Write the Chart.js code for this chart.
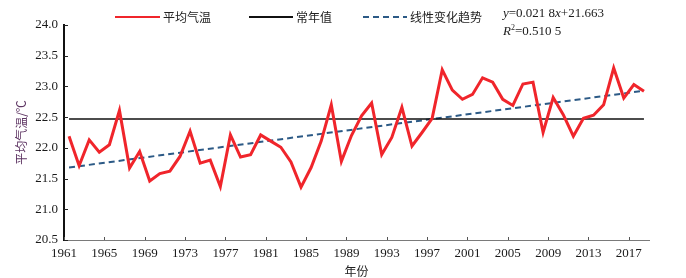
<!DOCTYPE html>
<html>
<head>
<meta charset="utf-8">
<script src="https://cdn.jsdelivr.net/npm/chart.js@4.4.1/dist/chart.umd.min.js"></script>
<style>
  html, body { margin: 0; padding: 0; background: #fff; }
  #wrap { width: 686px; height: 278px; }
</style>
</head>
<body>
<div id="wrap"><canvas id="c" width="686" height="278"></canvas></div>
<script>
// 年份
const years = [
  1961, 1962, 1963, 1964, 1965, 1966, 1967, 1968, 1969, 1970,
  1971, 1972, 1973, 1974, 1975, 1976, 1977, 1978, 1979, 1980,
  1981, 1982, 1983, 1984, 1985, 1986, 1987, 1988, 1989, 1990,
  1991, 1992, 1993, 1994, 1995, 1996, 1997, 1998, 1999, 2000,
  2001, 2002, 2003, 2004, 2005, 2006, 2007, 2008, 2009, 2010,
  2011, 2012, 2013, 2014, 2015, 2016, 2017, 2018
];
// 平均气温 (℃)
const temps = [
  22.19, 21.71, 22.13, 21.93, 22.05, 22.61, 21.67, 21.94, 21.46, 21.58,
  21.62, 21.86, 22.27, 21.75, 21.80, 21.37, 22.21, 21.85, 21.89, 22.21,
  22.11, 22.01, 21.77, 21.36, 21.68, 22.11, 22.70, 21.78, 22.20, 22.52,
  22.73, 21.89, 22.17, 22.66, 22.03, 22.25, 22.48, 23.27, 22.94, 22.79,
  22.87, 23.14, 23.07, 22.79, 22.69, 23.04, 23.07, 22.25, 22.82, 22.54,
  22.19, 22.48, 22.53, 22.70, 23.30, 22.81, 23.03, 22.92
];
// 常年值
const normalValue = 22.47;
// 线性趋势线两端 (1961, 2018)
const trendYears = [1961, 2018];
const trendValues = [21.68, 22.93];
// x 轴刻度标签
const xTickLabels = [1961, 1965, 1969, 1973, 1977, 1981, 1985, 1989, 1993, 1997, 2001, 2005, 2009, 2013, 2017];
const yTicks = [20.5, 21.0, 21.5, 22.0, 22.5, 23.0, 23.5, 24.0];

const SERIF = "'Liberation Serif', 'Times New Roman', serif";
const CJK = "'Noto Sans CJK SC', sans-serif";

Chart.defaults.font.family = SERIF;
Chart.defaults.font.size = 13;
Chart.defaults.color = "#1a1a1a";

// === 自定义绘制：图例、公式、轴标题、内刻度 ===
const decorPlugin = {
  id: "decor",
  afterDraw(chart) {
    const ctx = chart.ctx;
    const xs = chart.scales.x, ys = chart.scales.y;
    const area = chart.chartArea;
    ctx.save();

    // 内刻度
    ctx.strokeStyle = "#555";
    ctx.lineWidth = 1;
    xTickLabels.forEach((yr) => {
      const px = Math.round(xs.getPixelForValue(yr - 0.5)) + 0.5;
      ctx.beginPath();
      ctx.moveTo(px, area.bottom);
      ctx.lineTo(px, area.bottom - 3);
      ctx.stroke();
    });
    ctx.strokeStyle = "#222";
    yTicks.forEach((v) => {
      const py = Math.round(ys.getPixelForValue(v)) + 0.5;
      ctx.beginPath();
      ctx.moveTo(area.left, py);
      ctx.lineTo(area.left + 4, py);
      ctx.stroke();
    });

    // 图例
    const legendY = 17;
    const items = [
      { x0: 115, x1: 160, color: "#f0252b", width: 2, dash: [], text: "平均气温" },
      { x0: 249, x1: 293, color: "#111", width: 2, dash: [], text: "常年值" },
      { x0: 363, x1: 407, color: "#2c5a86", width: 2, dash: [6, 4], text: "线性变化趋势" },
    ];
    ctx.font = "12px " + CJK;
    ctx.textBaseline = "middle";
    ctx.textAlign = "left";
    items.forEach((it) => {
      ctx.strokeStyle = it.color;
      ctx.lineWidth = it.width;
      ctx.setLineDash(it.dash);
      ctx.beginPath();
      ctx.moveTo(it.x0, legendY);
      ctx.lineTo(it.x1, legendY);
      ctx.stroke();
      ctx.setLineDash([]);
      ctx.fillStyle = "#222";
      ctx.fillText(it.text, it.x1 + 3, legendY);
    });

    // 公式
    const drawParts = (parts, x, y) => {
      parts.forEach((p) => {
        ctx.font = (p.italic ? "italic " : "") + (p.size || 13) + "px " + SERIF;
        ctx.fillText(p.t, x, y + (p.dy || 0));
        x += ctx.measureText(p.t).width;
      });
    };
    ctx.fillStyle = "#1a1a1a";
    drawParts([
      { t: "y", italic: true }, { t: "=0.021 8" }, { t: "x", italic: true }, { t: "+21.663" }
    ], 503, 14);
    drawParts([
      { t: "R", italic: true }, { t: "2", size: 8, dy: -4 }, { t: "=0.510 5" }
    ], 503, 32);

    // 轴标题
    ctx.font = "12px " + CJK;
    ctx.textAlign = "center";
    ctx.fillStyle = "#222";
    ctx.fillText("年份", (area.left + area.right) / 2, 271);

    ctx.translate(21, (area.top + area.bottom) / 2);
    ctx.rotate(-Math.PI / 2);
    ctx.fillStyle = "#5e3563";
    ctx.fillText("平均气温/℃", 0, 0);
    ctx.restore();
  },
};

new Chart(document.getElementById("c"), {
  type: "line",
  data: {
    datasets: [
      {
        label: "平均气温",
        data: years.map((y, i) => ({ x: y, y: temps[i] })),
        borderColor: "#f0252b",
        borderWidth: 3,
        pointRadius: 0,
        tension: 0,
      },
      {
        label: "常年值",
        data: [{ x: years[0], y: normalValue }, { x: years[years.length - 1], y: normalValue }],
        borderColor: "#111",
        borderWidth: 1.6,
        pointRadius: 0,
      },
      {
        label: "线性变化趋势",
        data: trendYears.map((y, i) => ({ x: y, y: trendValues[i] })),
        borderColor: "#2c5a86",
        borderWidth: 2,
        borderDash: [6, 4],
        pointRadius: 0,
      },
    ],
  },
  options: {
    responsive: false,
    animation: false,
    layout: { padding: { left: 0, right: 37, top: 25, bottom: 0 } },
    plugins: { legend: { display: false }, tooltip: { enabled: false } },
    scales: {
      x: {
        type: "linear",
        min: 1960.5,
        max: 2018.5,
        grid: { display: false, drawTicks: false },
        border: { display: true, color: "#7a7a7a", width: 1 },
        afterBuildTicks: (s) => {
          s.ticks = xTickLabels.map((v) => ({ value: v - 0.5 }));
        },
        afterFit: (s) => { s.height = 38; },
        ticks: {
          padding: 6,
          maxRotation: 0,
          autoSkip: false,
          callback: (v) => String(Math.round(v + 0.5)),
        },
      },
      y: {
        min: 20.5,
        max: 24,
        grid: { display: false, drawTicks: false },
        border: { display: true, color: "#111", width: 2 },
        afterBuildTicks: (s) => {
          s.ticks = yTicks.map((v) => ({ value: v }));
        },
        afterFit: (s) => { s.width = 64; },
        ticks: {
          padding: 6,
          callback: (v) => v.toFixed(1),
        },
      },
    },
  },
  plugins: [decorPlugin],
});
</script>
</body>
</html>
